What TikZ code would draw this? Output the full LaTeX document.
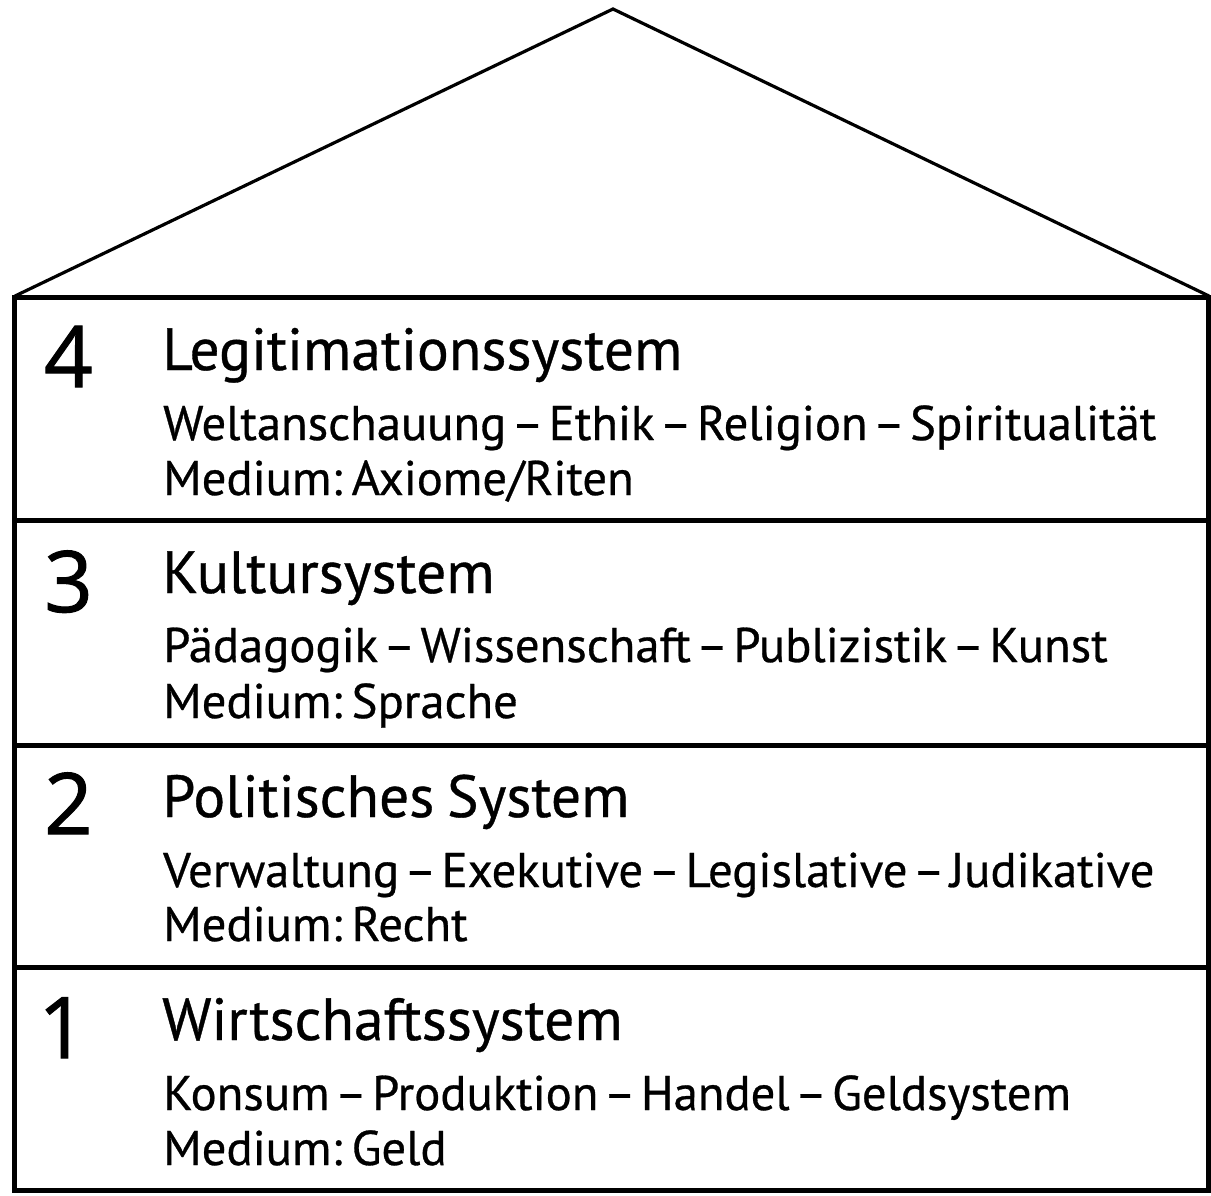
\documentclass[tikz,border=0pt]{standalone}
\usepackage{fontspec}
\setmainfont[WordSpace=0.4,FakeBold=0.6]{PT Sans}
\newfontfamily\headfamily[WordSpace=0.8,FakeBold=0.6]{PT Sans}
\newfontfamily\numfamily[FakeBold=1.2]{Open Sans}
\newcommand{\levelnumfont}{\numfamily\fontsize{85}{88}\selectfont}
\newcommand{\leveltitlefont}{\headfamily\fontsize{59.5}{62}\selectfont}
\newcommand{\levelsubfont}{\fontsize{48.7}{52}\selectfont}
\begin{document}
\begin{tikzpicture}[x=1pt,y=-1pt]
\tikzset{
  wall/.style={line width=5pt, draw=black},
  roofline/.style={line width=3.2pt, draw=black, line join=miter},
  levelnum/.style={anchor=base west, inner sep=0pt, font=\levelnumfont},
  leveltitle/.style={anchor=base west, inner sep=0pt, font=\leveltitlefont},
  levelsub/.style={anchor=base west, inner sep=0pt, font=\levelsubfont},
}
\useasboundingbox (0,0) rectangle (1211,1195);

% roof
\coordinate (eaveL) at (15,296);
\coordinate (apex) at (613,9);
\coordinate (eaveR) at (1209,296);
\draw[roofline] (eaveL) -- (apex) -- (eaveR);

% walls and floors
\coordinate (tl) at (14.5,297);
\coordinate (br) at (1208.5,1190);
\draw[wall] (tl) rectangle (br);
\foreach \y/\n in {520/a,745/b,967/c}{
  \coordinate (fl\n) at (14.5,\y);
  \coordinate (fr\n) at (1208.5,\y);
  \draw[wall] (fl\n) -- (fr\n);
}

% level 4
\node[levelnum] (n4) at (44,387) {4};
\node[leveltitle] (t4) at (162,370) {Legitimationssystem};
\node[levelsub] (s4) at (163,440) {Weltanschauung – Ethik – Religion – Spiritualität};
\node[levelsub] (m4) at (163,495) {Medium: Axiome/Riten};

% level 3
\node[levelnum] (n3) at (44,612) {3};
\node[leveltitle] (t3) at (162,593) {Kultursystem};
\node[levelsub] (s3) at (163,662) {Pädagogik – Wissenschaft – Publizistik – Kunst};
\node[levelsub] (m3) at (163,718) {Medium: Sprache};

% level 2
\node[levelnum] (n2) at (44,834) {2};
\node[leveltitle] (t2) at (162,817) {Politisches System};
\node[levelsub] (s2) at (163,887) {Verwaltung – Exekutive – Legislative – Judikative};
\node[levelsub] (m2) at (163,941) {Medium: Recht};

% level 1
\node[levelnum] (n1) at (38,1058) {1};
\node[leveltitle] (t1) at (162,1040) {Wirtschaftssystem};
\node[levelsub] (s1) at (163,1110) {Konsum – Produktion – Handel – Geldsystem};
\node[levelsub] (m1) at (163,1165) {Medium: Geld};
\end{tikzpicture}
\end{document}
